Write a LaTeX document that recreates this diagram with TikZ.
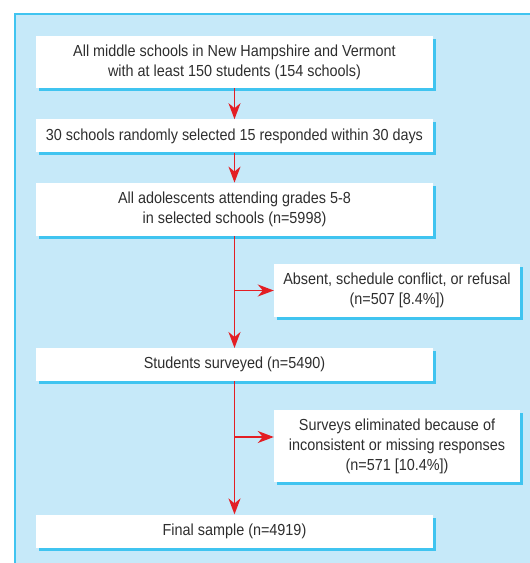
\documentclass[tikz,border=0pt]{standalone}
\usepackage{fontspec}
\setmainfont{Liberation Sans}[FakeStretch=0.9]
\usetikzlibrary{positioning,arrows.meta,shadows}
\definecolor{panelblue}{HTML}{C6E9F9}
\definecolor{rimblue}{HTML}{40C4F0}
\definecolor{flowred}{HTML}{E31E24}
\definecolor{inkgray}{HTML}{2E2E2E}
\tikzset{
  stagebox/.style={fill=white, text=inkgray, align=center, inner sep=0pt,
    minimum width=397pt, font=\fontsize{16}{20}\selectfont,
    drop shadow={shadow xshift=3pt, shadow yshift=-3pt, fill=rimblue, opacity=1}},
  exitbox/.style={stagebox, minimum width=246pt},
  flow/.style={draw=flowred, line width=1.8pt,
    -{Stealth[length=16pt, width=12pt, inset=5pt]}}
}
\begin{document}
\begin{tikzpicture}[x=1pt, y=-1pt]
  \useasboundingbox (0,0) rectangle (530,563);
  % panel
  \fill[panelblue] (15,14) rectangle (531,564);
  \draw[rimblue, line width=2pt] (15,564) -- (15,14) -- (531,14);

  % main column
  \node (schools) [stagebox, minimum height=52pt] at (234.5,62)
        {All middle schools in New Hampshire and Vermont\\with at least 150 students (154 schools)};
  \node (selected) [stagebox, minimum height=33pt, below=31pt of schools]
        {30 schools randomly selected 15 responded within 30 days};
  \node (pupils) [stagebox, minimum height=53pt, below=30pt of selected]
        {All adolescents attending grades 5-8\\in selected schools (n=5998)};
  \node (surveyed) [stagebox, minimum height=33pt, below=112pt of pupils]
        {Students surveyed (n=5490)};
  \node (final) [stagebox, minimum height=33pt, below=133pt of surveyed]
        {Final sample (n=4919)};

  % exclusions
  \node (absent) [exitbox, minimum height=53pt] at (397,290.5)
        {Absent, schedule conflict, or refusal\\(n=507 [8.4\%])};
  \node (dropped) [exitbox, minimum height=72pt] at (397,446)
        {Surveys eliminated because of\\inconsistent or missing responses\\(n=571 [10.4\%])};

  \coordinate (split1) at (pupils.south |- absent.west);
  \coordinate (split2) at ([yshift=9pt]surveyed.south |- dropped.west);

  \draw[flow] (schools) -- (selected);
  \draw[flow] (selected) -- (pupils);
  \draw[flow] (pupils) -- (surveyed);
  \draw[flow] (surveyed) -- (final);
  \draw[flow] (split1) -- (absent.west);
  \draw[flow] (split2) -- (split2 -| dropped.west);
\end{tikzpicture}
\end{document}
